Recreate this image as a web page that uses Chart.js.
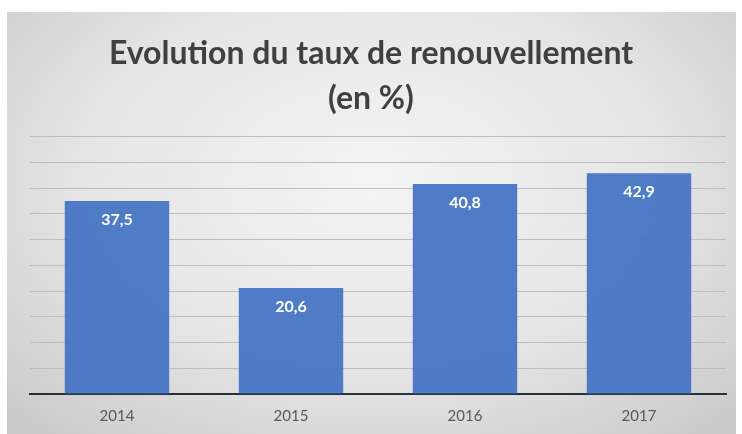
<!DOCTYPE html>
<html lang="fr">
<head>
    <meta charset="UTF-8">
    <title>Evolution du taux de renouvellement</title>
    <script src="https://cdn.jsdelivr.net/npm/chart.js@4.4.1/dist/chart.umd.min.js"></script>
    <style>
        html, body { margin: 0; padding: 0; background: #fff; }
        #wrap {
            position: relative; width: 742px; height: 434px; overflow: hidden;
        }
        #bg {
            position: absolute; left: 7px; top: 12px; width: 729px; height: 422px;
            background: radial-gradient(ellipse 70% 80% at 50% 40%, #f4f4f4 0%, #e6e6e6 55%, #cacaca 100%);
        }
        #chart { position: absolute; left: 0; top: 0; }
    </style>
</head>
<body>
    <div id="wrap">
        <div id="bg"></div>
        <canvas id="chart" width="742" height="434"></canvas>
    </div>

    <script>
       const years = ['2014', '2015', '2016', '2017'];
       const taux = [37.5, 20.6, 40.8, 42.9];
       const titleLines = ['Evolution du taux de renouvellement', '(en %)'];

       // etiquettes blanches en haut de chaque barre
       const barLabels = {
           id: 'barLabels',
           afterDatasetsDraw(chart) {
               const ctx = chart.ctx;
               const meta = chart.getDatasetMeta(0);
               ctx.save();
               ctx.fillStyle = '#ffffff';
               ctx.font = 'bold 16px Lato';
               ctx.textAlign = 'center';
               ctx.textBaseline = 'middle';
               meta.data.forEach((bar, i) => {
                   const txt = taux[i].toFixed(1).replace('.', ',');
                   ctx.fillText(txt, bar.x, bar.y + 19);
               });
               ctx.restore();
           }
       };

       const ctx = document.getElementById('chart').getContext('2d');
       const myChart = new Chart(ctx, {
           type: 'bar',
           data: {
               labels: years,
               datasets: [{
                   data: taux,
                   backgroundColor: 'rgba(68, 114, 196, 0.93)',
                   borderWidth: 0,
                   categoryPercentage: 1,
                   barPercentage: 0.6
               }]
           },
           options: {
               responsive: false,
               animation: false,
               layout: { padding: { left: 16, right: 16, top: 31, bottom: 4 } },
               plugins: {
                   legend: { display: false },
                   tooltip: { enabled: false },
                   title: {
                       display: true,
                       text: titleLines,
                       color: '#404040',
                       font: { family: 'Lato', size: 32, weight: 'bold', lineHeight: 1.4 },
                       padding: { top: 0, bottom: 16 }
                   }
               },
               scales: {
                   x: {
                       grid: { display: false },
                       border: { display: true, color: '#263238', width: 2 },
                       ticks: { color: '#595959', font: { family: 'Lato', size: 15 }, padding: 5 }
                   },
                   y: {
                       min: 0,
                       max: 50,
                       ticks: { display: false, stepSize: 5 },
                       border: { display: false },
                       grid: { color: '#bdbdbd', lineWidth: 1, drawTicks: false },
                       afterFit(scale) { scale.width = 14; }
                   }
               }
           },
           plugins: [barLabels]
       });
    </script>
</body>
</html>
